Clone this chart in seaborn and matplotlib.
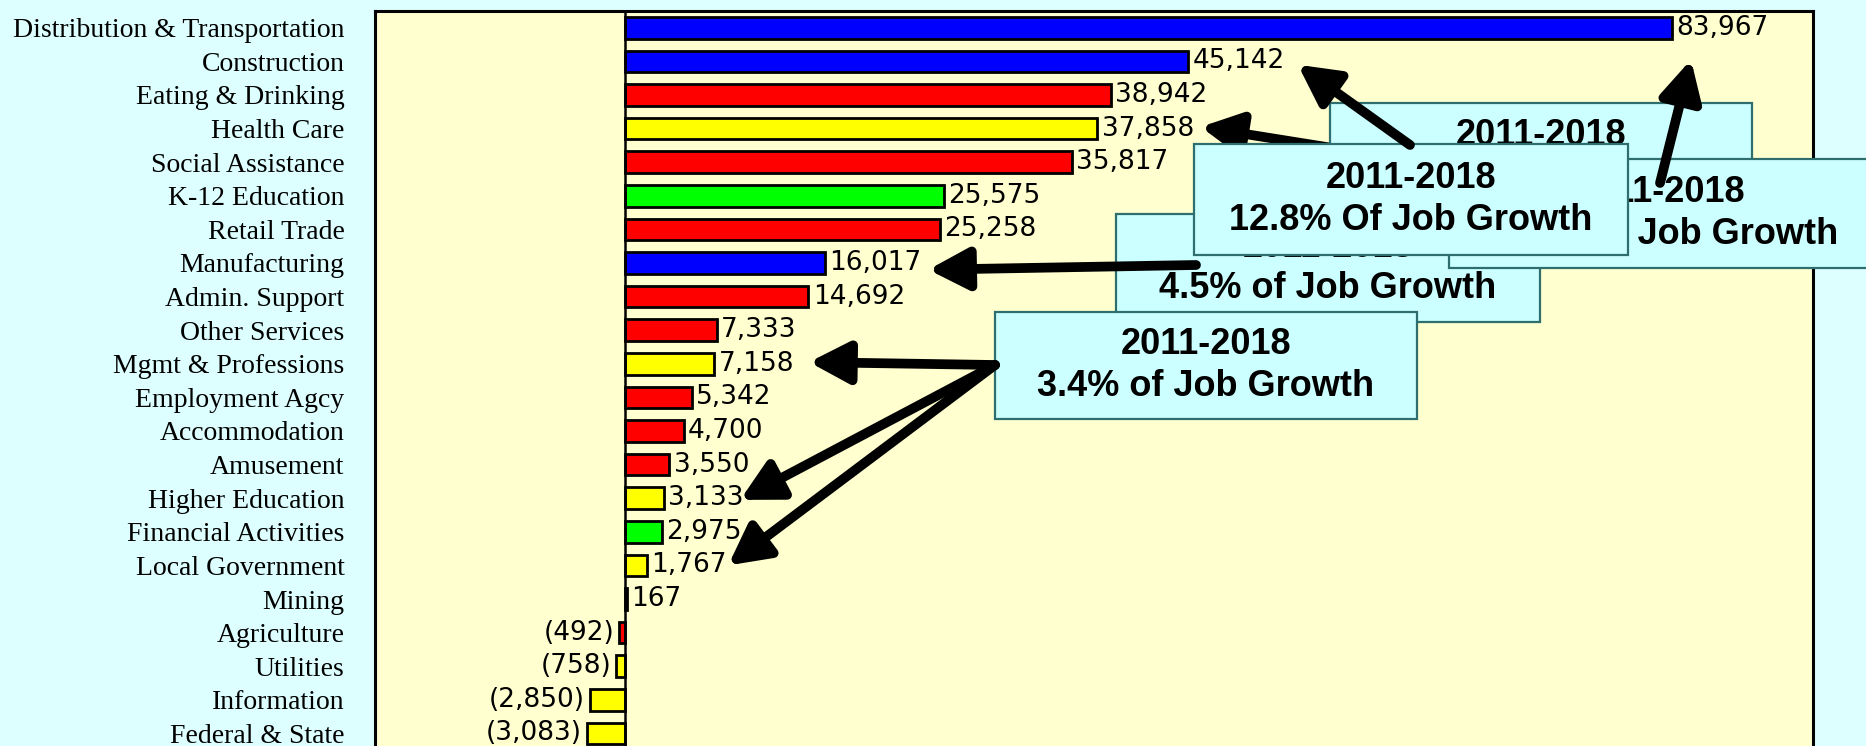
import matplotlib
matplotlib.use("Agg")
import matplotlib.pyplot as plt
from matplotlib.patches import Rectangle
import seaborn as sns
import pandas as pd

# ------------------- Data ------------------- #
categories = [
    "Distribution & Transportation", "Construction", "Eating & Drinking", "Health Care",
    "Social Assistance", "K-12 Education", "Retail Trade", "Manufacturing",
    "Admin. Support", "Other Services", "Mgmt & Professions", "Employment Agcy",
    "Accommodation", "Amusement", "Higher Education", "Financial Activities",
    "Local Government", "Mining", "Agriculture", "Utilities", "Information",
    "Federal & State",
]
job_change = [83967, 45142, 38942, 37858, 35817, 25575, 25258, 16017, 14692, 7333,
              7158, 5342, 4700, 3550, 3133, 2975, 1767, 167, -492, -758, -2850, -3083]
bar_colors = ["#0000FF", "#0000FF", "#FF0000", "#FFFF00", "#FF0000", "#00FF00",
              "#FF0000", "#0000FF", "#FF0000", "#FF0000", "#FFFF00", "#FF0000",
              "#FF0000", "#FF0000", "#FFFF00", "#00FF00", "#FFFF00", "#0000FF",
              "#FF0000", "#FFFF00", "#FFFF00", "#FFFF00"]

# callout boxes: title, share text, categories the arrows point at
callouts = [
    ("2011-2018", "10.7% of Job Growth", ["Health Care"]),
    ("2011-2018", "4.5% of Job Growth", ["Manufacturing"]),
    ("2011-2018", "3.4% of Job Growth", ["Mgmt & Professions", "Higher Education", "Local Government"]),
    ("2011-2018", "23.8% of Job Growth", ["Distribution & Transportation"]),
    ("2011-2018", "12.8% Of Job Growth", ["Construction"]),
]

df = pd.DataFrame({"category": categories, "change": job_change})

# ------------------- Figure ------------------- #
W, H = 1866, 746
fig = plt.figure(figsize=(W / 100, H / 100), dpi=100, facecolor="#DDFFFF")
ax = fig.add_axes([375 / W, -0.0507, (1813 - 375) / W, 1.036])
ax.set_facecolor("#FFFFD0")

sns.barplot(data=df, y="category", x="change", hue="category", palette=bar_colors,
            orient="h", width=0.64, saturation=1, edgecolor="black", linewidth=2,
            legend=False, ax=ax)

ax.set_xlim(-20050, 95250)
ax.set_ylim(22.5, -0.5)
ax.axvline(0, color="black", lw=1.8, zorder=3)
for s in ax.spines.values():
    s.set_linewidth(2.2)
    s.set_color("black")

ax.set_xlabel("")
ax.set_ylabel("")
ax.set_xticks([])
ax.tick_params(axis="y", length=0, pad=22)
for lab in ax.get_yticklabels():
    lab.set_fontfamily("Liberation Serif")
    lab.set_fontsize(20)

# value labels
for i, v in enumerate(job_change):
    txt = f"{v:,}" if v >= 0 else f"({-v:,})"
    ax.text(v + (350 if v >= 0 else -350), i, txt, ha="left" if v >= 0 else "right",
            va="center", fontsize=19, family="DejaVu Sans", zorder=4)

# ------------------- Callouts ------------------- #
# box geometry in figure pixels (left, top, width, height) from top-left corner
box_geom = [(1330, 103, 422, 107), (1116, 214, 424, 108), (995, 312, 422, 107),
            (1449, 159, 422, 109), (1194, 144, 434, 111)]
# arrow tails (figure pixels from top-left) and head offsets in data units
arrow_tails = [[(1345, 150)], [(1196, 265)], [(995, 365), (995, 365), (995, 365)],
               [(1660, 183)], [(1410, 145)]]
head_offsets = [[(8300, -0.05)], [(8300, 0.2)], [(7600, -0.05), (6100, 0.05), (6500, 0.0)],
                [(1500, 0.95)], [(8800, 0.1)]]

z = 10
for (title, share, targets), (bx, by, bw, bh), tails, offs in zip(
        callouts, box_geom, arrow_tails, head_offsets):
    arrow_z = z + 1 if targets != ["Health Care"] else z - 1
    rect = Rectangle((bx / W, 1 - (by + bh) / H), bw / W, bh / H, transform=fig.transFigure,
                     facecolor="#CCFFFF", edgecolor="#2E6E6E", lw=1.6, zorder=z, clip_on=False)
    ax.add_patch(rect)
    ax.text((bx + bw / 2) / W, 1 - (by + bh / 2) / H, f"{title}\n{share}",
            transform=fig.transFigure, ha="center", va="center", fontsize=26,
            fontweight="bold", family="Liberation Sans", linespacing=1.25,
            zorder=z + 0.5, clip_on=False)
    for cat, (tx, ty), (dx, dy) in zip(targets, tails, offs):
        idx = categories.index(cat)
        ax.annotate("", xy=(job_change[idx] + dx, idx + dy), xycoords="data",
                    xytext=(tx, H - ty), textcoords="figure pixels",
                    arrowprops=dict(arrowstyle="-|>,head_length=1.2,head_width=0.63",
                                    mutation_scale=20, lw=7, color="black",
                                    shrinkA=0, shrinkB=0),
                    zorder=arrow_z, annotation_clip=False)
    z += 2

fig.savefig("out.png", dpi=100, facecolor=fig.get_facecolor())
